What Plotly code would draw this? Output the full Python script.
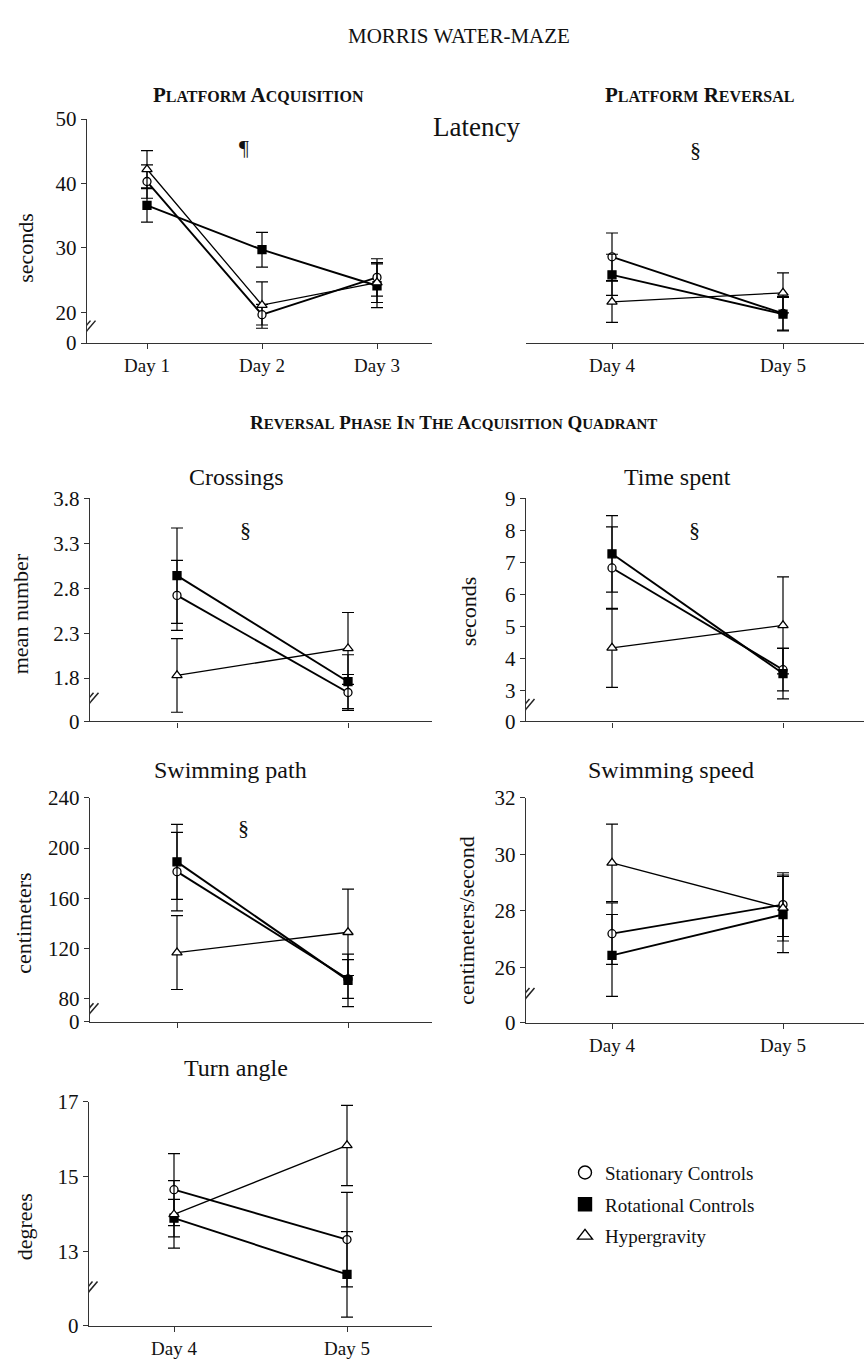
import plotly.graph_objects as go

W, H = 864, 1369
FONT = "Liberation Serif, Times New Roman, serif"
INK = "#111111"

GROUPS = ["Stationary Controls", "Rotational Controls", "Hypergravity"]

acq_days = ["Day 1", "Day 2", "Day 3"]
rev_days = ["Day 4", "Day 5"]

# Platform acquisition latency (s), mean and SEM
acq_stationary = [40.3, 19.6, 25.4]
acq_stationary_se = [2.6, 1.6, 2.9]
acq_rotational = [36.6, 29.7, 24.1]
acq_rotational_se = [2.6, 2.7, 3.4]
acq_hyper = [42.2, 21.1, 24.6]
acq_hyper_se = [2.9, 3.6, 3.1]

# Platform reversal latency (s)
rev_stationary = [28.6, 19.8]
rev_stationary_se = [3.7, 2.6]
rev_rotational = [25.8, 19.7]
rev_rotational_se = [3.2, 2.6]
rev_hyper = [21.6, 23.0]
rev_hyper_se = [3.2, 3.1]

# Crossings (mean number)
cross_stationary = [2.72, 1.64]
cross_stationary_se = [0.39, 0.20]
cross_rotational = [2.94, 1.76]
cross_rotational_se = [0.53, 0.30]
cross_hyper = [1.83, 2.13]
cross_hyper_se = [0.41, 0.40]

# Time spent (s)
time_stationary = [6.83, 3.66]
time_stationary_se = [1.28, 0.66]
time_rotational = [7.27, 3.54]
time_rotational_se = [1.19, 0.79]
time_hyper = [4.34, 5.04]
time_hyper_se = [1.23, 1.51]

# Swimming path (cm)
path_stationary = [181.2, 95.5]
path_stationary_se = [31.4, 15.5]
path_rotational = [189.0, 94.4]
path_rotational_se = [30.0, 21.0]
path_hyper = [116.6, 132.8]
path_hyper_se = [29.5, 34.5]

# Swimming speed (cm/s)
speed_stationary = [27.19, 28.22]
speed_stationary_se = [1.09, 1.13]
speed_rotational = [26.42, 27.87]
speed_rotational_se = [1.45, 1.35]
speed_hyper = [29.70, 28.10]
speed_hyper_se = [1.37, 1.17]

# Turn angle (degrees)
turn_stationary = [14.65, 13.32]
turn_stationary_se = [0.96, 1.26]
turn_rotational = [13.89, 12.39]
turn_rotational_se = [0.50, 1.14]
turn_hyper = [13.99, 15.83]
turn_hyper_se = [0.90, 1.07]

latency_ticks = [20, 30, 40, 50]
cross_ticks = [1.8, 2.3, 2.8, 3.3, 3.8]
time_ticks = [3, 4, 5, 6, 7, 8, 9]
path_ticks = [80, 120, 160, 200, 240]
speed_ticks = [26, 28, 30, 32]
turn_ticks = [13, 15, 17]

STYLE = {
    "Stationary Controls": dict(symbol="circle", size=8, color="white", lw=1.9),
    "Rotational Controls": dict(symbol="square", size=8, color="black", lw=1.9),
    "Hypergravity": dict(symbol="triangle-up", size=9, color="white", lw=1.3),
}


def px(v):
    return v / W


def py(v):
    return 1 - v / H


fig = go.Figure()
layout = {}
shapes = []
annotations = []


def add_panel(idx, left, right, top, bottom, day_px, y_top, y_low, y_low_px,
              yticks, days, series, day_labels=True, yaxis_on=True, mark=None):
    xa = "xaxis" if idx == 1 else f"xaxis{idx}"
    ya = "yaxis" if idx == 1 else f"yaxis{idx}"
    xr = "x" if idx == 1 else f"x{idx}"
    yr = "y" if idx == 1 else f"y{idx}"

    scale = (y_low_px - top) / (y_top - y_low)       # px per data unit
    y_lo = y_low - (bottom - y_low_px) / scale        # value sitting on the x-axis
    spacing = day_px[1] - day_px[0]
    x_lo = -(day_px[0] - left) / spacing
    x_hi = x_lo + (right - left) / spacing

    layout[xa] = dict(
        domain=[px(left), px(right)], anchor=yr, range=[x_lo, x_hi],
        tickmode="array", tickvals=list(range(len(days))),
        ticktext=days if day_labels else [""] * len(days),
        showline=True, linecolor="#333", linewidth=1.4,
        ticks="outside", ticklen=5, tickcolor="#333", tickwidth=1.2,
        showgrid=False, zeroline=False, fixedrange=True,
        tickfont=dict(family=FONT, size=19, color=INK),
    )
    layout[ya] = dict(
        domain=[py(bottom), py(top)], anchor=xr, range=[y_lo, y_top],
        tickmode="array", tickvals=[y_lo] + list(yticks),
        ticktext=["0"] + [f"{t:g}" for t in yticks],
        showline=True, linecolor="#333", linewidth=1.4,
        ticks="outside", ticklen=5, tickcolor="#333", tickwidth=1.2,
        showgrid=False, zeroline=False, fixedrange=True,
        tickfont=dict(family=FONT, size=21, color=INK),
        visible=yaxis_on,
    )

    for name, (vals, se) in series.items():
        st = STYLE[name]
        fig.add_trace(go.Scatter(
            x=list(range(len(vals))), y=vals, xaxis=xr, yaxis=yr,
            mode="lines+markers", showlegend=False, cliponaxis=False,
            line=dict(color="black", width=st["lw"]),
            marker=dict(symbol=st["symbol"], size=st["size"], color=st["color"],
                        line=dict(color="black", width=1.3)),
            error_y=dict(type="data", array=se, visible=True,
                         color="black", thickness=1.2, width=6),
        ))

    if yaxis_on:
        # axis break marks between the "0" tick and the lowest scaled tick
        y_break = y_lo + (y_low - y_lo) * 0.5
        for dx in (-2.5, 2.5):
            shapes.append(dict(
                type="line", xref=xr, yref=yr,
                xsizemode="pixel", ysizemode="pixel",
                xanchor=x_lo, yanchor=y_break,
                x0=dx - 6, x1=dx + 6, y0=-7, y1=7,
                line=dict(color="#222", width=1.5),
            ))

    if mark is not None:
        sym, mx, my = mark
        annotations.append(dict(
            text=sym, xref=xr, yref=yr, x=mx, y=my, showarrow=False,
            font=dict(family=FONT, size=22, color=INK),
        ))


add_panel(1, 87, 432, 109, 337, (147, 262), 50, 20, 305.5, latency_ticks, acq_days,
          {"Stationary Controls": (acq_stationary, acq_stationary_se),
           "Rotational Controls": (acq_rotational, acq_rotational_se),
           "Hypergravity": (acq_hyper, acq_hyper_se)},
          mark=("¶", 0.84, 45.6))
add_panel(2, 526, 864, 109, 337, (612, 783), 50, 20, 305.5, latency_ticks, rev_days,
          {"Stationary Controls": (rev_stationary, rev_stationary_se),
           "Rotational Controls": (rev_rotational, rev_rotational_se),
           "Hypergravity": (rev_hyper, rev_hyper_se)},
          yaxis_on=False, mark=("§", 0.49, 45.3))
add_panel(3, 90, 432, 495, 722, (177, 348), 3.8, 1.8, 678, cross_ticks, rev_days,
          {"Stationary Controls": (cross_stationary, cross_stationary_se),
           "Rotational Controls": (cross_rotational, cross_rotational_se),
           "Hypergravity": (cross_hyper, cross_hyper_se)},
          day_labels=False, mark=("§", 0.40, 3.45))
add_panel(4, 526, 864, 495, 722, (612, 783), 9, 3, 691, time_ticks, rev_days,
          {"Stationary Controls": (time_stationary, time_stationary_se),
           "Rotational Controls": (time_rotational, time_rotational_se),
           "Hypergravity": (time_hyper, time_hyper_se)},
          day_labels=False, mark=("§", 0.485, 8.02))
add_panel(5, 90, 432, 800, 1028, (177, 348), 240, 80, 1004, path_ticks, rev_days,
          {"Stationary Controls": (path_stationary, path_stationary_se),
           "Rotational Controls": (path_rotational, path_rotational_se),
           "Hypergravity": (path_hyper, path_hyper_se)},
          day_labels=False, mark=("§", 0.386, 216.5))
add_panel(6, 526, 864, 800, 1029, (612, 783), 32, 26, 972.3, speed_ticks, rev_days,
          {"Stationary Controls": (speed_stationary, speed_stationary_se),
           "Rotational Controls": (speed_rotational, speed_rotational_se),
           "Hypergravity": (speed_hyper, speed_hyper_se)})
add_panel(7, 89, 432, 1109, 1337, (174, 347), 17, 13, 1261.7, turn_ticks, rev_days,
          {"Stationary Controls": (turn_stationary, turn_stationary_se),
           "Rotational Controls": (turn_rotational, turn_rotational_se),
           "Hypergravity": (turn_hyper, turn_hyper_se)})

# legend entries
for name in GROUPS:
    st = STYLE[name]
    fig.add_trace(go.Scatter(
        x=[None], y=[None], name=name, mode="markers", legendgroup=name,
        marker=dict(symbol=st["symbol"], size=13, color=st["color"],
                    line=dict(color="black", width=1.4)),
    ))


def text(t, x, y, size=18, angle=0, bold=False):
    f = dict(family=FONT, size=size, color=INK)
    if bold:
        f["weight"] = "bold"
    annotations.append(dict(
        text=t, xref="paper", yref="paper", x=px(x), y=py(y),
        xanchor="center", yanchor="middle", showarrow=False,
        textangle=angle, font=f,
    ))


def small_caps(phrase, big, small):
    """Bold heading set in small capitals: initials large, the rest reduced."""
    words = []
    for w in phrase.split():
        words.append(w[0].upper()
                     + f'<span style="font-size:{small}px">{w[1:].upper()}</span>')
    return " ".join(words)


text("MORRIS WATER-MAZE", 459, 24, size=21)
text(small_caps("Platform Acquisition", 21, 16), 258, 84, size=21, bold=True)
text(small_caps("Platform Reversal", 21, 16), 699, 84, size=21, bold=True)
text("Latency", 476, 117, size=27)
text(small_caps("Reversal Phase In The Acquisition Quadrant", 19, 15), 454, 418,
     size=19, bold=True)
text("Crossings", 236, 473, size=24)
text("Time spent", 677, 473, size=24)
text("Swimming path", 230, 772, size=24)
text("Swimming speed", 671, 772, size=24)
text("Turn angle", 236, 1075, size=24)

text("seconds", 26, 240, size=22, angle=-90)
text("mean number", 20, 613, size=22, angle=-90)
text("seconds", 468, 610, size=22, angle=-90)
text("centimeters", 24, 928, size=22, angle=-90)
text("centimeters/second", 467, 925, size=22, angle=-90)
text("degrees", 24, 1237, size=22, angle=-90)

fig.update_layout(
    width=W, height=H,
    margin=dict(l=0, r=0, t=0, b=0),
    paper_bgcolor="white", plot_bgcolor="white",
    font=dict(family=FONT, color=INK),
    showlegend=True,
    legend=dict(
        x=px(565), y=py(1162), xanchor="left", yanchor="top",
        font=dict(family=FONT, size=19, color=INK),
        tracegroupgap=4, bgcolor="rgba(0,0,0,0)", itemsizing="trace",
        itemwidth=30,
    ),
    shapes=shapes,
    annotations=annotations,
    **layout,
)

fig.write_html("out.html")
